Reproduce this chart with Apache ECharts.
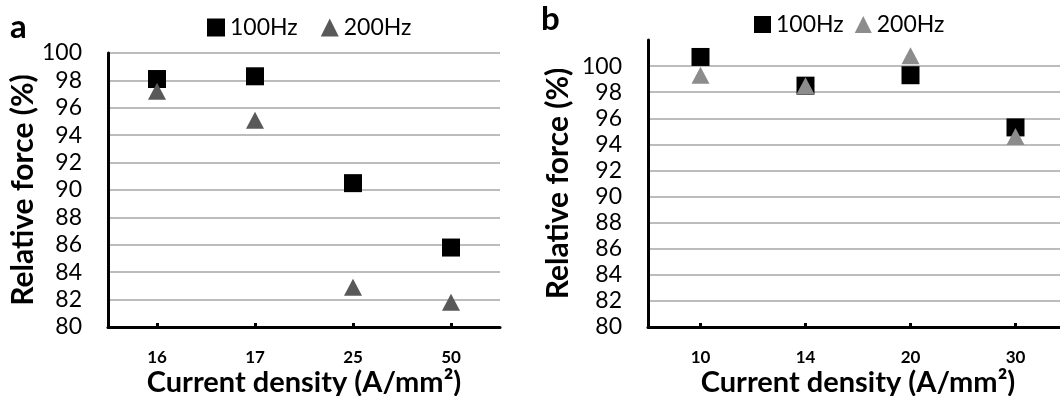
<!DOCTYPE html>
<html>
<head>
<meta charset="utf-8">
<script src="https://cdn.jsdelivr.net/npm/echarts@6/dist/echarts.min.js"></script>
<style>
  html, body { margin: 0; padding: 0; background: #fff; }
  #chart { width: 1060px; height: 396px; }
</style>
</head>
<body>
<div id="chart"></div>
<script>
// panel a
var catsA = ["16", "17", "25", "50"];
var hz100A = [98.1, 98.3, 90.5, 85.8];
var hz200A = [97.2, 95.1, 82.9, 81.8];
// panel b
var catsB = ["10", "14", "20", "30"];
var hz100B = [100.7, 98.5, 99.3, 95.3];
var hz200B = [99.3, 98.5, 100.8, 94.6];

var FONT = "Lato";
var chart = echarts.init(document.getElementById("chart"));

function xAxis(idx, cats) {
  return {
    type: "category",
    gridIndex: idx,
    data: cats,
    name: "Current density (A/mm\u00B2)",
    nameLocation: "middle",
    nameGap: 41,
    nameMoveOverlap: false,
    nameTextStyle: { fontFamily: FONT, fontWeight: "bold", fontSize: 29, color: "#000" },
    axisLine: { lineStyle: { color: "#000", width: 3 } },
    axisTick: { show: true, alignWithLabel: true, inside: true, length: 4, lineStyle: { color: "#000", width: 3 } },
    axisLabel: { fontFamily: FONT, fontWeight: "bold", fontSize: 17, color: "#000", margin: 22 },
    splitLine: { show: false }
  };
}

function yAxis(idx, max, gap) {
  return {
    type: "value",
    gridIndex: idx,
    min: 80,
    max: max,
    interval: 2,
    name: "Relative force (%)",
    nameLocation: "middle",
    nameRotate: 90,
    nameGap: gap,
    nameTextStyle: { fontFamily: FONT, fontWeight: "bold", fontSize: 30, color: "#000" },
    axisLine: { show: true, lineStyle: { color: "#000", width: 3 } },
    axisTick: { show: false },
    axisLabel: { fontFamily: FONT, fontSize: 23, color: "#000", margin: 26, showMaxLabel: max === 100 },
    splitLine: { show: true, showMinLine: false, showMaxLine: max === 100, lineStyle: { color: "#a6a6a6", width: 1.5 } }
  };
}

function series(name, data, idx, symbol, color) {
  return {
    name: name,
    type: "scatter",
    xAxisIndex: idx,
    yAxisIndex: idx,
    data: data,
    symbol: symbol,
    symbolSize: symbol === "rect" ? 18 : [18, 17],
    itemStyle: { color: color, opacity: 1 },
    emphasis: { disabled: true }
  };
}

var legendText = { fontFamily: FONT, fontSize: 23, color: "#000" };

chart.setOption({
  animation: false,
  title: [
    { text: "a", left: 5, top: 6, textStyle: { fontFamily: FONT, fontWeight: "bold", fontSize: 33, color: "#000" } },
    { text: "b", left: 536, top: -2, textStyle: { fontFamily: FONT, fontWeight: "bold", fontSize: 33, color: "#000" } }
  ],
  legend: [
    {
      left: 202, top: 11, itemWidth: 18, itemHeight: 18, itemGap: 23,
      textStyle: legendText,
      data: [
        { name: "100Hz", icon: "rect", itemStyle: { color: "#000" } },
        { name: "200Hz", icon: "triangle", itemStyle: { color: "#595959" } }
      ]
    },
    {
      left: 749, top: 8, itemWidth: 17, itemHeight: 17, itemGap: 11,
      textStyle: legendText,
      data: [
        { name: "100Hz", icon: "rect", itemStyle: { color: "#000" } },
        { name: "200Hz", icon: "triangle", itemStyle: { color: "#8c8c8c" } }
      ]
    }
  ],
  grid: [
    { left: 108, top: 53, width: 392, height: 274, containLabel: false, outerBoundsMode: "none" },
    { left: 648, top: 40, width: 420, height: 287, containLabel: false, outerBoundsMode: "none" }
  ],
  xAxis: [xAxis(0, catsA), xAxis(1, catsB)],
  yAxis: [yAxis(0, 100, 68), yAxis(1, 102, 75)],
  series: [
    series("100Hz", hz100A, 0, "rect", "#000"),
    series("200Hz", hz200A, 0, "triangle", "#595959"),
    series("100Hz", hz100B, 1, "rect", "#000"),
    series("200Hz", hz200B, 1, "triangle", "#8c8c8c")
  ]
});
</script>
</body>
</html>
